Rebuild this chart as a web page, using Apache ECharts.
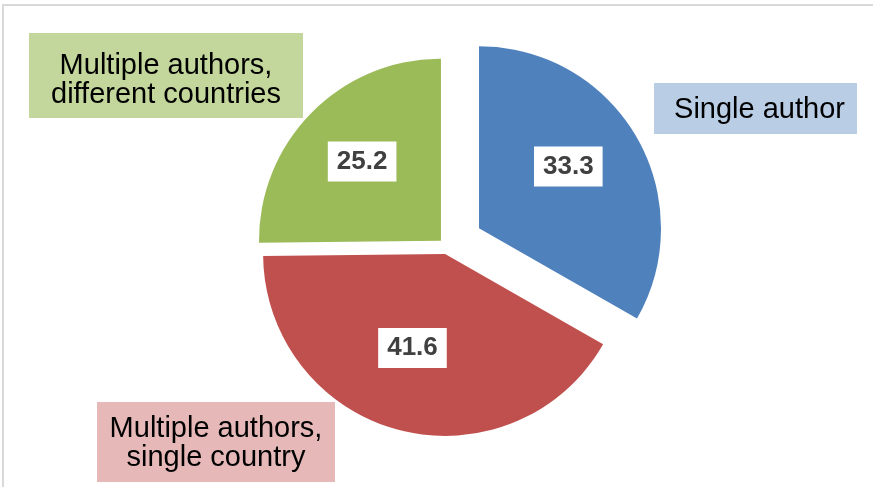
<!DOCTYPE html>
<html><head><meta charset="utf-8">
<script src="https://cdn.jsdelivr.net/npm/echarts@6/dist/echarts.min.js"></script>
<style>html,body{margin:0;padding:0;background:#fff}#c{width:873px;height:487px}</style>
</head><body><div id="c"></div>
<script>
// ---- data ----
const categories = ['Single author', 'Multiple authors,\nsingle country', 'Multiple authors,\ndifferent countries'];
const values = [33.3, 41.6, 25.2];

// ---- style / layout ----
const colors = ['#4f81bd', '#c0504d', '#9bbb59'];
const calloutColors = ['#b9cde5', '#e6b9b8', '#c3d69b'];
const explode = [37, 7.5, 8.5];
const labelShift = [[8, -14.5], [-9, 3], [-12, -13]];
const calloutBoxes = [[654, 83, 203, 51], [97, 402, 238, 80], [29, 33, 274, 85]];
const calloutTextPos = [[759.5, 110], [216, 443], [166, 80]];
const base = [447, 246.7];
const R = 182;
const FONT = '"Liberation Sans", Arial, sans-serif';

const total = values.reduce((a, b) => a + b, 0);
let cum = 0;
const series = values.map((v, i) => {
  const mid = (cum + v / 2) / total * 2 * Math.PI;
  cum += v;
  const c = [base[0] + explode[i] * Math.sin(mid), base[1] - explode[i] * Math.cos(mid)];
  return {
    type: 'pie',
    center: c,
    radius: R,
    startAngle: 90,
    clockwise: true,
    silent: true,
    animation: false,
    emphasis: { disabled: true },
    labelLine: { show: false },
    label: {
      position: 'inside',
      formatter: p => p.value.toFixed(1),
      fontFamily: FONT,
      fontSize: 26,
      fontWeight: 'bold',
      color: '#404040',
      backgroundColor: '#ffffff',
      padding: [7, 9]
    },
    labelLayout: () => ({ dx: labelShift[i][0], dy: labelShift[i][1] }),
    data: values.map((vv, j) => ({
      value: vv,
      name: categories[j],
      itemStyle: { color: j === i ? colors[j] : 'rgba(0,0,0,0)' },
      label: { show: j === i }
    }))
  };
});

const graphics = [{
  type: 'rect',
  shape: { x: 3, y: 5, width: 900, height: 500 },
  style: { fill: 'none', stroke: '#d9d9d9', lineWidth: 2 },
  silent: true
}];
categories.forEach((name, i) => {
  const b = calloutBoxes[i];
  graphics.push({
    type: 'rect',
    shape: { x: b[0], y: b[1], width: b[2], height: b[3] },
    style: { fill: calloutColors[i] },
    silent: true
  });
  graphics.push({
    type: 'text',
    x: calloutTextPos[i][0],
    y: calloutTextPos[i][1],
    style: {
      text: name,
      font: '29px ' + FONT,
      fill: '#000000',
      align: 'center',
      verticalAlign: 'middle',
      lineHeight: 29
    },
    silent: true
  });
});

const chart = echarts.init(document.getElementById('c'));
chart.setOption({
  animation: false,
  backgroundColor: '#ffffff',
  series: series,
  graphic: graphics
});
</script>
</body></html>
